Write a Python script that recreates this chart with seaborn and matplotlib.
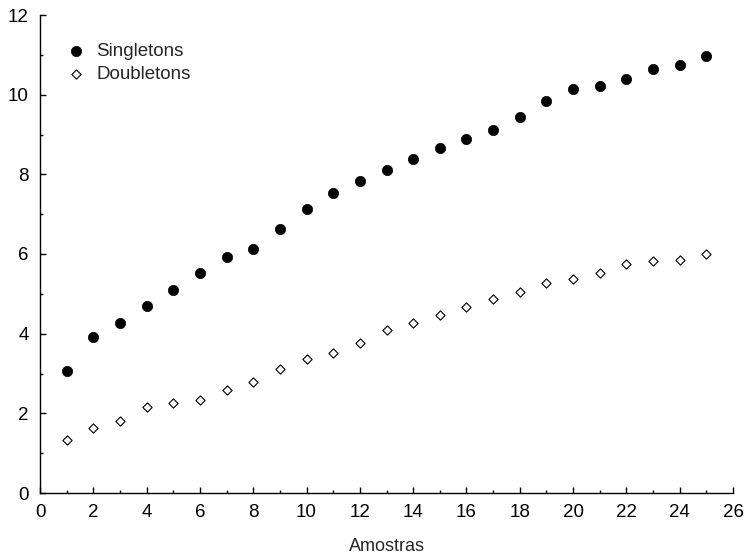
import matplotlib
matplotlib.use("Agg")
import matplotlib.pyplot as plt
from matplotlib.ticker import MultipleLocator
import seaborn as sns
import pandas as pd

amostras = list(range(1, 26))
singletons = [3.07, 3.92, 4.28, 4.70, 5.10, 5.52, 5.93, 6.12, 6.63, 7.12,
              7.53, 7.84, 8.11, 8.38, 8.65, 8.89, 9.11, 9.43, 9.84, 10.13,
              10.22, 10.40, 10.64, 10.75, 10.97]
doubletons = [1.34, 1.64, 1.82, 2.15, 2.27, 2.33, 2.58, 2.78, 3.12, 3.36,
              3.52, 3.77, 4.08, 4.28, 4.48, 4.66, 4.86, 5.05, 5.26, 5.38,
              5.53, 5.74, 5.83, 5.86, 5.99]

sns.set_style("ticks")
plt.rcParams["font.family"] = ["Liberation Sans", "DejaVu Sans"]

df_s = pd.DataFrame({"Amostras": amostras, "valor": singletons})
df_d = pd.DataFrame({"Amostras": amostras, "valor": doubletons})

fig = plt.figure(figsize=(7.47, 5.58), dpi=100)
ax = fig.add_axes([40 / 747, 65 / 558, 693 / 747, 478 / 558])

sns.scatterplot(data=df_s, x="Amostras", y="valor", ax=ax, marker="o",
                color="black", edgecolor="black", s=55, linewidth=0.5,
                label="Singletons", zorder=3)
sns.scatterplot(data=df_d, x="Amostras", y="valor", ax=ax, marker="D",
                color="white", edgecolor="black", s=22, linewidth=0.8,
                label="Doubletons", zorder=3)

ax.set_xlim(0, 26)
ax.set_ylim(0, 12)
ax.xaxis.set_major_locator(MultipleLocator(2))
ax.xaxis.set_minor_locator(MultipleLocator(1))
ax.yaxis.set_major_locator(MultipleLocator(2))
ax.yaxis.set_minor_locator(MultipleLocator(1))
ax.tick_params(which="both", direction="in", labelsize=13.5, width=1, colors="black")
ax.tick_params(which="major", length=4, pad=8)
ax.tick_params(which="minor", length=2)
ax.set_xlabel("Amostras", fontsize=13, labelpad=12)
ax.set_ylabel("")
for side in ("top", "right"):
    ax.spines[side].set_visible(False)
for side in ("left", "bottom"):
    ax.spines[side].set_linewidth(1)
    ax.spines[side].set_color("black")

ax.legend(loc="upper left", bbox_to_anchor=(0.019, 0.958), frameon=False,
          fontsize=13.5, handlelength=1.6, handletextpad=0.3,
          borderaxespad=0, labelspacing=0.35)

fig.savefig("out.png", dpi=100)
